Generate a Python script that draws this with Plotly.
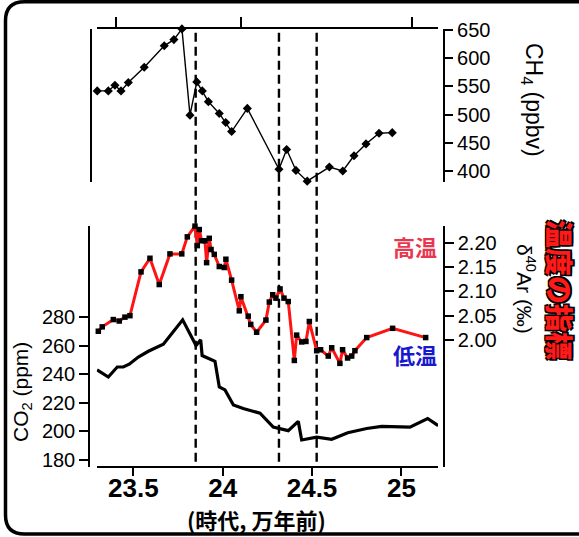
import plotly.graph_objects as go

# ---------------- data ----------------
ch4_age = [23.298, 23.360, 23.397, 23.431, 23.472, 23.561, 23.673, 23.727, 23.772, 23.817,
           23.855, 23.886, 23.920, 23.981, 24.017, 24.050, 24.138, 24.315, 24.358, 24.410,
           24.473, 24.597, 24.672, 24.735, 24.802, 24.875, 24.949]
ch4 = [542, 542, 552, 542, 557, 584, 622, 633, 652, 499,
       558, 542, 523, 502, 486, 470, 511, 403, 438, 401,
       382, 407, 400, 427, 448, 467, 468]

ar_age = [23.304, 23.326, 23.388, 23.421, 23.453, 23.481, 23.543, 23.593, 23.645, 23.705,
          23.771, 23.802, 23.845, 23.858, 23.869, 23.882, 23.901, 23.910, 23.925, 23.935,
          23.953, 23.981, 24.009, 24.018, 24.050, 24.093, 24.102, 24.143, 24.157, 24.190,
          24.242, 24.261, 24.280, 24.298, 24.321, 24.343, 24.367, 24.401, 24.414, 24.442,
          24.466, 24.485, 24.526, 24.548, 24.591, 24.610, 24.656, 24.671, 24.699, 24.722,
          24.740, 24.806, 24.951, 25.136]
ar40 = [2.018, 2.027, 2.042, 2.039, 2.047, 2.050, 2.140, 2.168, 2.114, 2.177,
        2.177, 2.212, 2.234, 2.194, 2.227, 2.204, 2.204, 2.159, 2.209, 2.186,
        2.176, 2.151, 2.149, 2.166, 2.123, 2.060, 2.089, 2.049, 2.032, 2.016,
        2.041, 2.078, 2.093, 2.086, 2.105, 2.086, 2.079, 1.958, 2.010, 1.996,
        1.997, 2.038, 1.978, 1.980, 1.967, 1.984, 1.952, 1.980, 1.963, 1.967,
        1.978, 2.005, 2.024, 2.005]

co2_age = [23.297, 23.360, 23.410, 23.444, 23.477, 23.528, 23.584, 23.668, 23.776, 23.851,
           23.877, 23.885, 23.957, 23.981, 24.013, 24.060, 24.115, 24.209, 24.283, 24.321,
           24.367, 24.423, 24.442, 24.526, 24.610, 24.700, 24.806, 24.890, 25.048, 25.147,
           25.206]
co2 = [243, 238, 245, 245, 247, 252, 256, 261, 278, 260,
       264, 253, 249, 231, 229, 218.5, 216, 212.7, 203, 202,
       200.5, 207, 194, 196, 194.5, 199, 202, 203.5, 203, 209,
       204]

event_ages = [23.849, 24.315, 24.526]

x_ticks = [23.5, 24, 24.5, 25]
x_ticktext = ["23.5", "24", "24.5", "25"]
top_ticks = [23.403, 24.102, 25.058]
co2_ticks = [180, 200, 220, 240, 260, 280]
ar_ticks = [2.00, 2.05, 2.10, 2.15, 2.20]
ch4_ticks = [400, 450, 500, 550, 600, 650]

# ---------------- layout helpers ----------------
W, H = 579, 537
def px(x):
    return x / W
def py(y):
    return 1 - y / H

XR = [23.295, 25.205]
low_dom = [py(466.7), py(226)]
top_dom = [py(181.7), py(28.5)]

fig = go.Figure()

fig.add_trace(go.Scatter(x=co2_age, y=co2, mode="lines", xaxis="x", yaxis="y",
                         line=dict(color="black", width=3.2), cliponaxis=False))
fig.add_trace(go.Scatter(x=ar_age, y=ar40, mode="lines+markers", xaxis="x", yaxis="y2",
                         line=dict(color="#ff1414", width=3),
                         marker=dict(symbol="square", size=5.5, color="black"),
                         cliponaxis=False))
fig.add_trace(go.Scatter(x=ch4_age, y=ch4, mode="lines+markers", xaxis="x", yaxis="y3",
                         line=dict(color="black", width=1.4),
                         marker=dict(symbol="diamond", size=7, color="black"),
                         cliponaxis=False))
# helper traces so that decorative axes are drawn
fig.add_trace(go.Scatter(x=[None], y=[None], xaxis="x2", yaxis="y3", hoverinfo="skip"))
fig.add_trace(go.Scatter(x=[None], y=[None], xaxis="x", yaxis="y4", hoverinfo="skip"))

axcommon = dict(showgrid=False, zeroline=False, showline=True, linecolor="black",
                linewidth=1.5, tickcolor="black", tickwidth=1.5, automargin=False)
tickfont = dict(family="Liberation Sans, Arial, sans-serif", size=20, color="black")

fig.update_layout(
    template="none",
    width=W, height=H, autosize=False,
    margin=dict(l=0, r=0, t=0, b=0, pad=0),
    paper_bgcolor="white", plot_bgcolor="rgba(0,0,0,0)",
    showlegend=False,
    font=dict(family="Liberation Sans, Arial, sans-serif", color="black"),
    xaxis=dict(domain=[px(96.7), px(438)], range=XR, anchor="free", position=py(466.7),
               ticks="outside", ticklen=9, tickvals=x_ticks, ticktext=x_ticktext,
               ticklabelstandoff=-11,
               tickfont=dict(family="Liberation Sans, Arial, sans-serif", size=26,
                             color="black", weight="bold"),
               **axcommon),
    xaxis2=dict(domain=[px(96.7), px(436.7)], range=XR, anchor="free", position=py(28.3),
                overlaying="x", side="top", ticks="outside", ticklen=11,
                tickvals=top_ticks, showticklabels=False, **axcommon),
    yaxis=dict(domain=low_dom, range=[175.3, 343.6], anchor="free", position=px(89),
               side="left", ticks="outside", ticklen=9, tickvals=co2_ticks,
               tickfont=tickfont, **axcommon),
    yaxis2=dict(domain=low_dom, range=[1.7396, 2.2343], anchor="free", position=px(444),
                overlaying="y", side="right", ticks="outside", ticklen=9,
                tickvals=ar_ticks, tickformat=".2f", tickfont=tickfont, **axcommon),
    yaxis3=dict(domain=top_dom, range=[381, 652.7], anchor="free", position=px(444.3),
                side="right", ticks="outside", ticklen=8, tickvals=ch4_ticks,
                tickfont=tickfont, **axcommon),
    yaxis4=dict(domain=top_dom, range=[381, 652.7], anchor="free", position=px(91),
                overlaying="y3", side="left", ticks="", showticklabels=False, **axcommon),
)

# dashed event lines
for a in event_ages:
    fig.add_shape(type="line", xref="x", yref="paper", x0=a, x1=a,
                  y0=py(461.7), y1=py(29), layer="below",
                  line=dict(color="black", width=2.4, dash="9px,5px"))

# rounded frame
L, T, R, B, r = 5.5, 1.8, 597, 534, 19
path = (f"M {px(L+r)},{py(T)} L {px(R-r)},{py(T)} Q {px(R)},{py(T)} {px(R)},{py(T+r)} "
        f"L {px(R)},{py(B-r)} Q {px(R)},{py(B)} {px(R-r)},{py(B)} "
        f"L {px(L+r)},{py(B)} Q {px(L)},{py(B)} {px(L)},{py(B-r)} "
        f"L {px(L)},{py(T+r)} Q {px(L)},{py(T)} {px(L+r)},{py(T)} Z")
fig.add_shape(type="path", xref="paper", yref="paper", path=path,
              line=dict(color="black", width=3.5))

cjk = "Noto Sans CJK JP, Noto Sans CJK SC, sans-serif"
ann = [
    dict(text="CH<sub>4</sub> (ppbv)", x=px(533), y=py(100), textangle=90,
         font=dict(size=23)),
    dict(text="δ<sup>40</sup>Ar (‰)", x=px(526), y=py(289), textangle=90,
         font=dict(size=21)),
    dict(text="CO<sub>2</sub> (ppm)", x=px(22), y=py(392), textangle=-90,
         font=dict(size=21)),
    dict(text="(時代, 万年前)", x=px(256), y=py(518.5),
         font=dict(family=cjk, size=22, weight="bold")),
    dict(text="高温", x=px(415), y=py(246),
         font=dict(family=cjk, size=22, weight="bold", color="#e8384f")),
    dict(text="低温", x=px(415), y=py(354),
         font=dict(family=cjk, size=22, weight="bold", color="#1818cc")),
    dict(text="温度の指標", x=px(560), y=py(290), textangle=90,
         font=dict(family=cjk, size=28, weight=900, color="#ff1a1a",
                   shadow="-1.5px -1.5px 0 #000, 1.5px -1.5px 0 #000, -1.5px 1.5px 0 #000, 1.5px 1.5px 0 #000")),
]
for a in ann:
    f = dict(family="Liberation Sans, Arial, sans-serif", color="black")
    f.update(a.pop("font"))
    fig.add_annotation(xref="paper", yref="paper", showarrow=False,
                       xanchor="center", yanchor="middle", font=f, **a)

fig.write_html("out.html", config={"displayModeBar": False},
               post_script="document.body.style.margin='0';")
